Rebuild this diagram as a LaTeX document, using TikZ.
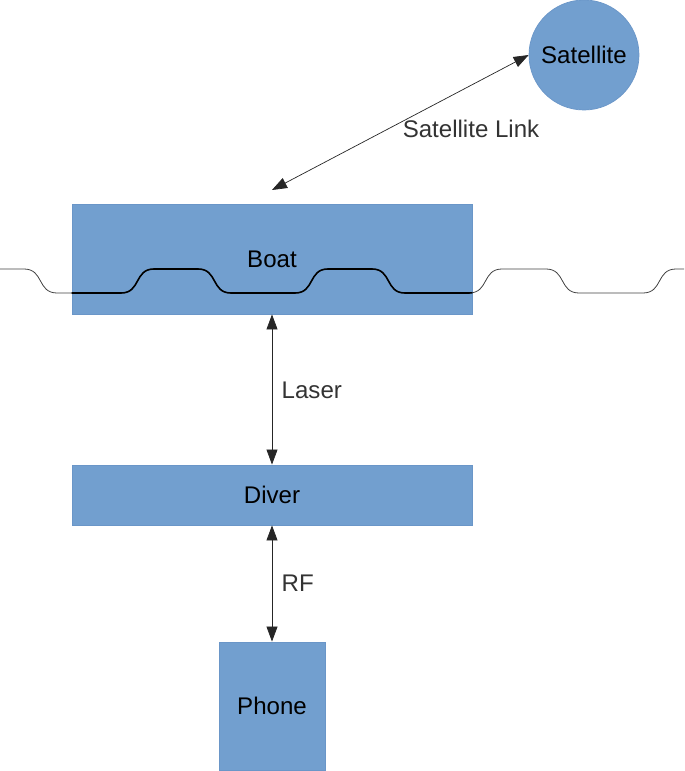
\documentclass[tikz,border=0pt]{standalone}
\usepackage{fontspec}
\setmainfont{Liberation Sans}
\usepackage{tikz}
\usetikzlibrary{shapes,arrows.meta}
\definecolor{boxblue}{HTML}{729FCF}
\definecolor{boxedge}{HTML}{6A96C8}
\definecolor{labelgray}{HTML}{333333}

\tikzset{
  block/.style={draw=boxedge, fill=boxblue, rectangle, line width=0.5pt, inner sep=0pt},
  link/.style={<->, line width=0.4pt, draw=black!85},
  linklabel/.style={text=labelgray},
  wave/.style={line width=0.45pt, draw=black!75}
}

\begin{document}
\begin{tikzpicture}[>={Triangle[length=0.3cm,width=0.22cm]}, every node/.style={font=\fontsize{13.7}{16}\selectfont}]
\useasboundingbox (0,0) rectangle (13.68,-15.42);

\node[xshift=11.68cm,yshift=-1.1cm,draw=boxedge,fill=boxblue,circle,minimum size=2.2cm,inner sep=0pt] (satellite) {Satellite};
\node[xshift=5.44cm,yshift=-5.18cm,block,minimum width=8cm,minimum height=2.2cm] (boat) {};
\node[xshift=5.44cm,yshift=-5.18cm] (boatname) {Boat};
\node[xshift=5.44cm,yshift=-9.9cm,block,minimum width=8cm,minimum height=1.2cm] (diver) {Diver};
\node[xshift=5.44cm,yshift=-14.12cm,block,minimum width=2.12cm,minimum height=2.56cm] (phone) {Phone};

% the sea
\draw[wave] (0,-5.38) -- (0.48,-5.38) .. controls (0.88,-5.38) and (0.74,-5.86) .. (1.14,-5.86) -- (2.42,-5.86) .. controls (2.82,-5.86) and (2.68,-5.38) .. (3.08,-5.38) -- (3.96,-5.38) .. controls (4.36,-5.38) and (4.22,-5.86) .. (4.62,-5.86) -- (5.90,-5.86) .. controls (6.30,-5.86) and (6.16,-5.38) .. (6.56,-5.38) -- (7.44,-5.38) .. controls (7.84,-5.38) and (7.70,-5.86) .. (8.10,-5.86) -- (9.38,-5.86) .. controls (9.78,-5.86) and (9.64,-5.38) .. (10.04,-5.38) -- (10.92,-5.38) .. controls (11.32,-5.38) and (11.18,-5.86) .. (11.58,-5.86) -- (12.86,-5.86) .. controls (13.26,-5.86) and (13.12,-5.38) .. (13.52,-5.38) -- (13.68,-5.38);
\begin{scope}
\clip (boat.south west) rectangle (boat.north east);
\draw[line width=0.9pt, black] (0,-5.38) -- (0.48,-5.38) .. controls (0.88,-5.38) and (0.74,-5.86) .. (1.14,-5.86) -- (2.42,-5.86) .. controls (2.82,-5.86) and (2.68,-5.38) .. (3.08,-5.38) -- (3.96,-5.38) .. controls (4.36,-5.38) and (4.22,-5.86) .. (4.62,-5.86) -- (5.90,-5.86) .. controls (6.30,-5.86) and (6.16,-5.38) .. (6.56,-5.38) -- (7.44,-5.38) .. controls (7.84,-5.38) and (7.70,-5.86) .. (8.10,-5.86) -- (9.38,-5.86) .. controls (9.78,-5.86) and (9.64,-5.38) .. (10.04,-5.38);
\end{scope}

\coordinate (boattop) at (5.44,-3.8);
\draw[link] (boattop) -- (satellite.west);
\draw[link] (boat.south) -- (diver.north);
\draw[link] (diver.south) -- (phone.north);

\node[xshift=9.42cm,yshift=-2.58cm,linklabel] (satlabel) {Satellite Link};
\node[xshift=5.51cm,yshift=-7.8cm,anchor=west,linklabel] (laserlabel) {Laser};
\node[xshift=5.51cm,yshift=-11.66cm,anchor=west,linklabel] (rflabel) {RF};
\end{tikzpicture}
\end{document}
